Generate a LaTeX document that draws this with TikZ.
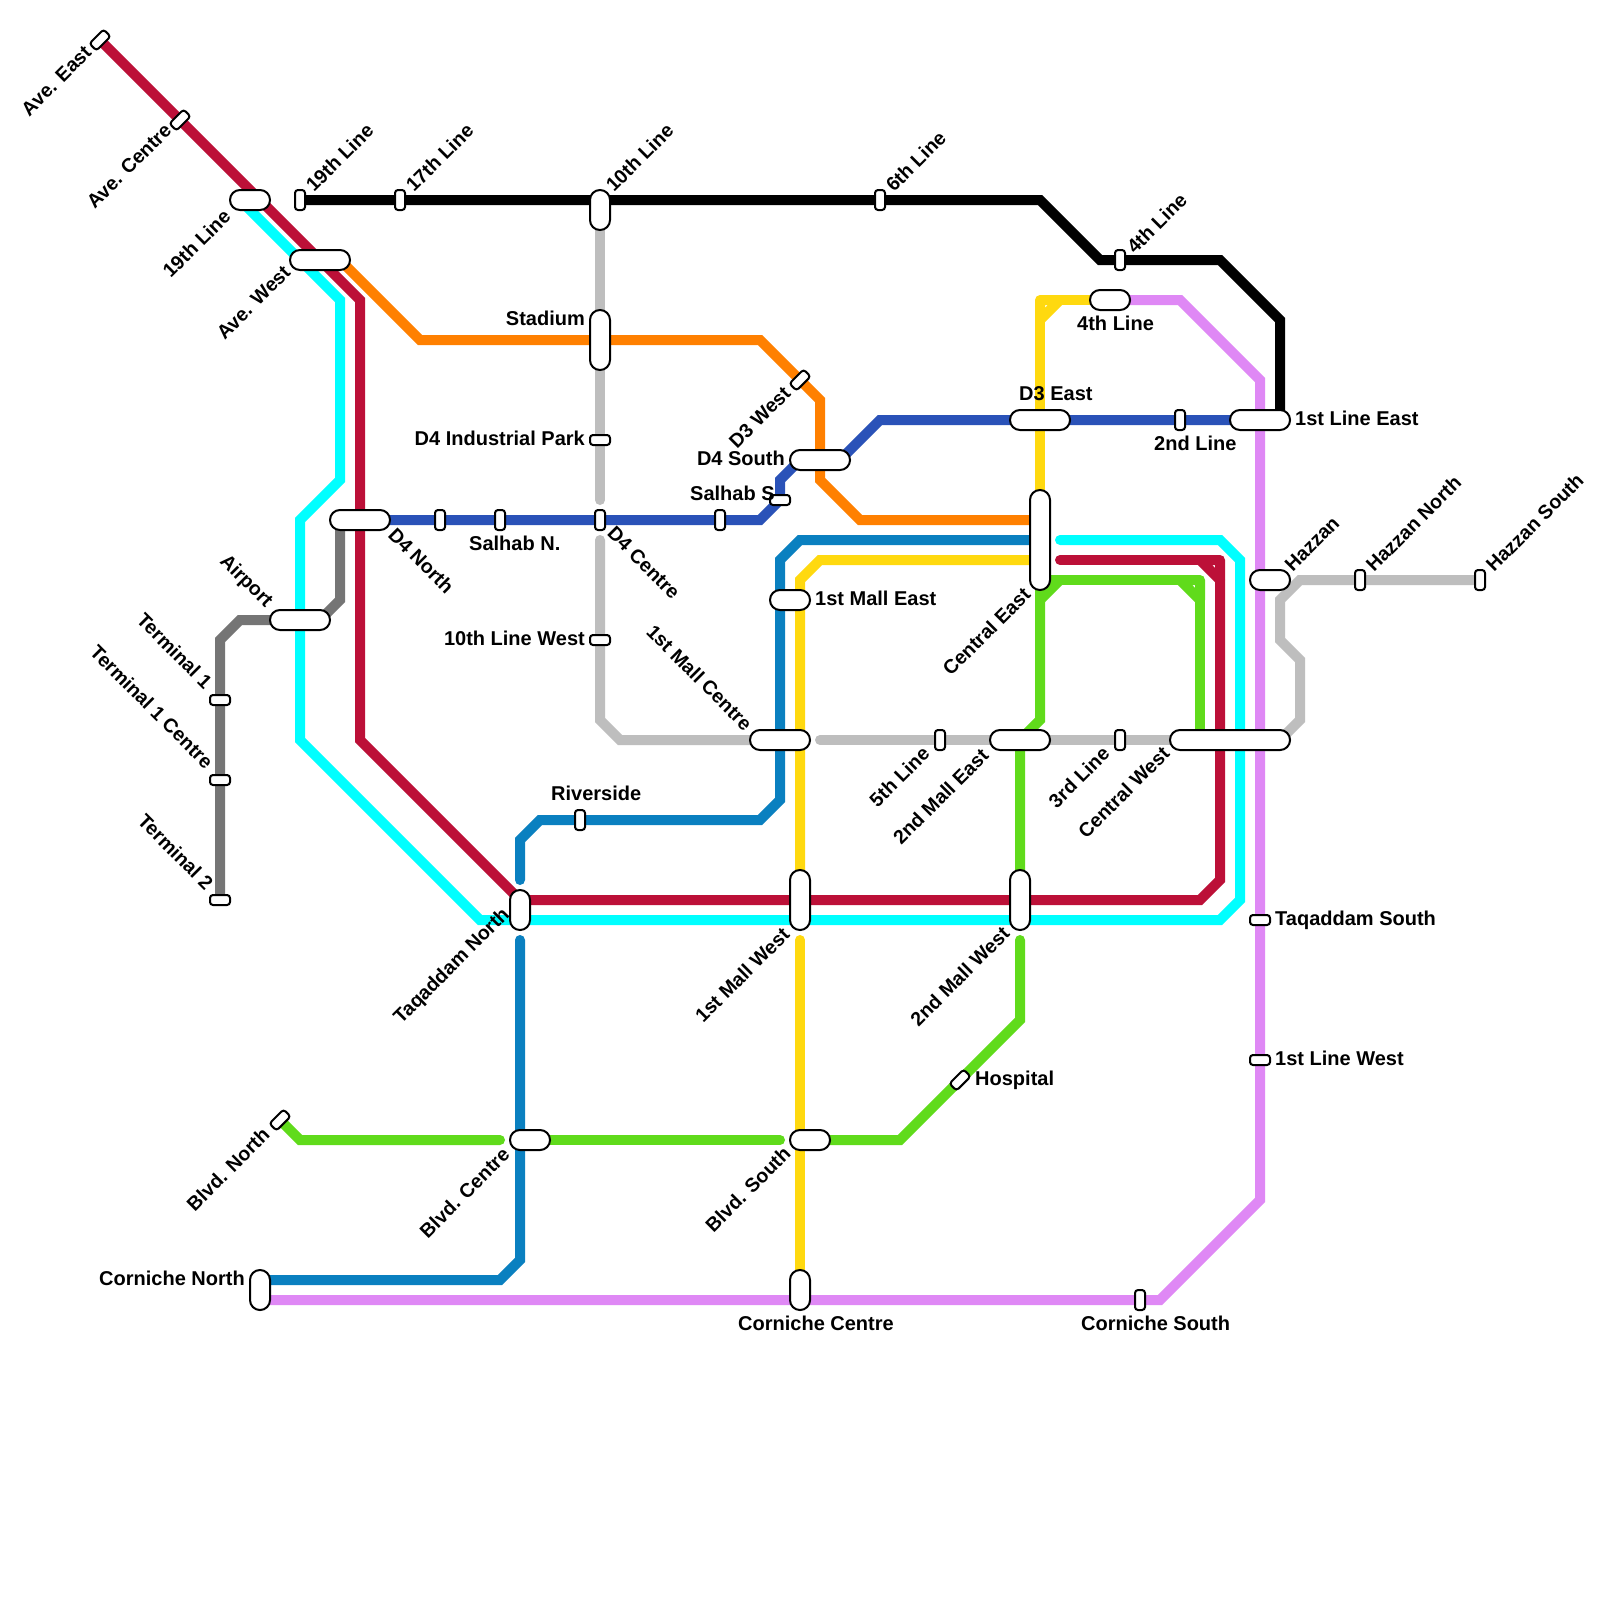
\documentclass[tikz,border=0pt]{standalone}
\usepackage{fontspec}
\setmainfont{Liberation Sans}
\usetikzlibrary{backgrounds}
\definecolor{cCrim}{HTML}{BC1038}
\definecolor{cCyan}{HTML}{00FFFF}
\definecolor{cOrange}{HTML}{FF8000}
\definecolor{cBlue}{HTML}{2A52B8}
\definecolor{cGrey}{HTML}{BEBEBE}
\definecolor{cDark}{HTML}{757575}
\definecolor{cRiver}{HTML}{0A80C0}
\definecolor{cYellow}{HTML}{FFD90F}
\definecolor{cGreen}{HTML}{60DB1B}
\definecolor{cPurple}{HTML}{DF88F5}
\tikzset{
  stn/.style={rectangle,draw=black,fill=white,line width=2pt,inner sep=0pt,outer sep=0pt},
  pill/.style n args={2}{stn,rounded corners=9.9pt,minimum width=#1pt,minimum height=#2pt},
  tickv/.style={stn,rounded corners=3pt,minimum width=10pt,minimum height=20pt},
  tickh/.style={stn,rounded corners=3pt,minimum width=20pt,minimum height=10pt},
  tickd/.style={tickh,rotate=45},
  lb/.style={font=\bfseries\fontsize{20}{24}\selectfont,inner sep=0pt,text=black},
  lup/.style={lb,font=\bfseries\fontsize{19.6}{24}\selectfont,rotate=45},
  ldn/.style={lb,font=\bfseries\fontsize{19.6}{24}\selectfont,rotate=-45},
  ln/.style={line width=10pt,line cap=round,line join=miter,miter limit=10},
  cr/.style={line width=10pt,line cap=round,line join=round},
}
\begin{document}
\begin{tikzpicture}[x=1pt,y=-1pt]
\useasboundingbox (0,0) rectangle (1600,1600);
% stations
\node[tickd] (sAveE) at (100,40) {};
\node[tickd] (sAveC) at (180,120) {};
\node[pill={40}{20}] (s19) at (250,200) {};
\node[tickv] (s19L) at (300,200) {};
\node[tickv] (s17L) at (400,200) {};
\node[pill={20}{40}] (s10L) at (600,210) {};
\node[tickv] (s6L) at (880,200) {};
\node[tickv] (s4L) at (1120,260) {};
\node[pill={60}{20}] (sAveW) at (320,260) {};
\node[pill={40}{20}] (s4Lb) at (1110,300) {};
\node[pill={20}{60}] (sStad) at (600,340) {};
\node[tickd] (sD3W) at (800,380) {};
\node[pill={60}{20}] (sD3E) at (1040,420) {};
\node[tickv] (s2L) at (1180,420) {};
\node[pill={60}{20}] (s1LE) at (1260,420) {};
\node[tickh] (sInd) at (600,440) {};
\node[pill={60}{20}] (sD4S) at (820,460) {};
\node[tickh] (sSalS) at (780,500) {};
\node[pill={60}{20}] (sD4N) at (360,520) {};
\node[tickv] (sT1) at (440,520) {};
\node[tickv] (sSalN) at (500,520) {};
\node[tickv] (sD4C) at (600,520) {};
\node[tickv] (sT2) at (720,520) {};
\node[pill={20}{100}] (sCE) at (1040,540) {};
\node[pill={40}{20}] (sHaz) at (1270,580) {};
\node[tickv] (sHazN) at (1360,580) {};
\node[tickv] (sHazS) at (1480,580) {};
\node[pill={40}{20}] (s1ME) at (790,600) {};
\node[pill={60}{20}] (sAir) at (300,620) {};
\node[tickh] (s10W) at (600,640) {};
\node[tickh] (sTer1) at (220,700) {};
\node[pill={60}{20}] (s1MC) at (780,740) {};
\node[tickv] (s5L) at (940,740) {};
\node[pill={60}{20}] (s2ME) at (1020,740) {};
\node[tickv] (s3L) at (1120,740) {};
\node[pill={120}{20}] (sCW) at (1230,740) {};
\node[tickh] (sTer1C) at (220,780) {};
\node[tickv] (sRiv) at (580,820) {};
\node[tickh] (sTer2) at (220,900) {};
\node[pill={20}{60}] (s1MW) at (800,900) {};
\node[pill={20}{60}] (s2MW) at (1020,900) {};
\node[pill={20}{40}] (sTaqN) at (520,910) {};
\node[tickh] (sTaqS) at (1260,920) {};
\node[tickh] (s1LW) at (1260,1060) {};
\node[tickd] (sHos) at (960,1080) {};
\node[tickd] (sBlvN) at (280,1120) {};
\node[pill={40}{20}] (sBlvC) at (530,1140) {};
\node[pill={40}{20}] (sBlvS) at (810,1140) {};
\node[pill={20}{40}] (sCorN) at (260,1290) {};
\node[pill={20}{40}] (sCorC) at (800,1290) {};
\node[tickv] (sCorS) at (1140,1300) {};
% free ends
\coordinate (eCyanR) at (1060,540);
\coordinate (eCrimR) at (1060,560);
\coordinate (eGreyA) at (600,500);
\coordinate (eGreyB) at (600,540);
\coordinate (eGreyC) at (820,740);
\coordinate (eRivA) at (520,880);
\coordinate (eRivB) at (520,940);
\coordinate (eYelA) at (800,940);
\coordinate (eYelB) at (1040,560);
\coordinate (eGrnA) at (1020,880);
\coordinate (eGrnB) at (1020,940);
\coordinate (eGrnC) at (780,1140);
\coordinate (eGrnD) at (550,1140);
\coordinate (eGrnE) at (500,1140);
\coordinate (eOrA) at (340,260);
\coordinate (eOrB) at (1040,520);
\coordinate (eCyA) at (240,200);
\coordinate (eDkA) at (340,520);
\coordinate (eRivC) at (260,1280);
\coordinate (ePurA) at (260,1300);
\begin{scope}[on background layer]
\fill[white] (0,0) rectangle (1600,1600);
% black
\draw[ln,black] (s19L.center) -- (1040,200) -- (1100,260) -- (1220,260) -- (1280,320) -- (1280,420);
% grey
\draw[ln,cGrey] (s10L.center) -- (eGreyA);
\draw[ln,cGrey] (eGreyB) -- (600,720) -- (620,740) -- (s1MC.center);
\draw[ln,cGrey] (eGreyC) -- (sCW.center);
\draw[ln,cGrey] (sHazS.center) -- (1300,580) -- (1280,600) -- (1280,640) -- (1300,660) -- (1300,720) -- (1280,740);
% dark grey
\draw[ln,cDark] (eDkA) -- (340,600) -- (320,620) -- (240,620) -- (220,640) -- (sTer2.center);
% orange
\draw[ln,cOrange] (eOrA) -- (420,340) -- (760,340) -- (820,400) -- (820,480) -- (860,520) -- (eOrB);
% blue
\draw[ln,cBlue] (sD4N.center) -- (760,520) -- (780,500) -- (780,480) -- (800,460) -- (840,460) -- (880,420) -- (s1LE.center);
% cyan
\draw[ln,cCyan] (eCyA) -- (340,300) -- (340,480) -- (300,520) -- (300,740) -- (480,920) -- (1220,920) -- (1240,900) -- (1240,560) -- (1220,540) -- (eCyanR);
% crimson
\draw[ln,cCrim] (sAveE.center) -- (360,300) -- (360,740) -- (520,900) -- (1200,900) -- (1220,880) -- (1220,580);
\draw[ln,cCrim] (eCrimR) -- (1200,560);
\draw[cr,cCrim] (1200,560) -- (1220,560) -- (1220,580) -- cycle;
% river blue
\draw[ln,cRiver] (sCE.center) -- (800,540) -- (780,560) -- (780,800) -- (760,820) -- (540,820) -- (520,840) -- (eRivA);
\draw[ln,cRiver] (eRivB) -- (520,1260) -- (500,1280) -- (eRivC);
% yellow
\draw[ln,cYellow] (sCE.center) -- (1040,320);
\draw[ln,cYellow] (1060,300) -- (s4Lb.center);
\draw[cr,cYellow] (1060,300) -- (1040,300) -- (1040,320) -- cycle;
\draw[ln,cYellow] (eYelB) -- (820,560) -- (800,580) -- (s1MW.center);
\draw[ln,cYellow] (eYelA) -- (sCorC.center);
% green
\draw[ln,cGreen] (1180,580) -- (1060,580);
\draw[cr,cGreen] (1180,580) -- (1200,580) -- (1200,600) -- cycle;
\draw[ln,cGreen] (1200,600) -- (1200,740);
\draw[cr,cGreen] (1060,580) -- (1040,580) -- (1040,600) -- cycle;
\draw[ln,cGreen] (1040,600) -- (1040,720) -- (1020,740) -- (eGrnA);
\draw[ln,cGreen] (eGrnB) -- (1020,1020) -- (900,1140) -- (sBlvS.center);
\draw[ln,cGreen] (eGrnC) -- (eGrnD);
\draw[ln,cGreen] (eGrnE) -- (300,1140) -- (sBlvN.center);
% purple
\draw[ln,cPurple] (ePurA) -- (1160,1300) -- (1260,1200) -- (1260,380) -- (1180,300) -- (s4Lb.center);
\end{scope}
% labels
\node[lup,anchor=east] (lAveE) at (88,49) {Ave. East};
\node[lup,anchor=east] (lAveC) at (168,127) {Ave. Centre};
\node[lup,anchor=east] (l19b) at (227,213) {19th Line};
\node[lup,anchor=east] (lAveW) at (287,269) {Ave. West};
\node[ldn,anchor=east] (lAir) at (269,605) {Airport};
\node[ldn,anchor=east] (lTer1) at (209,685) {Terminal 1};
\node[ldn,anchor=east] (lTer1C) at (210,765) {Terminal 1 Centre};
\node[ldn,anchor=east] (lTer2) at (210,886) {Terminal 2};
\node[lup,anchor=west] (l19) at (309,188) {19th Line};
\node[lup,anchor=west] (l17) at (409,188) {17th Line};
\node[lup,anchor=west] (l10) at (609,188) {10th Line};
\node[lup,anchor=west] (l6) at (889,188) {6th Line};
\node[lup,anchor=west] (l4) at (1130,250) {4th Line};
\node[lup,anchor=west] (lHaz) at (1288,568) {Hazzan};
\node[lup,anchor=west] (lHazN) at (1369,568) {Hazzan North};
\node[lup,anchor=west] (lHazS) at (1489,568) {Hazzan South};
\node[lb,anchor=base east] (lStad) at (585,325) {Stadium};
\node[lb,anchor=base east] (lInd) at (585,445) {D4 Industrial Park};
\node[lb,anchor=base east] (l10W) at (585,645) {10th Line West};
\node[lb,anchor=base east] (lD4S) at (785,465) {D4 South};
\node[lb,anchor=base west] (lSalS) at (690,500) {Salhab S};
\node[lb,anchor=base west] (lSalN) at (469,550) {Salhab N.};
\node[ldn,anchor=west] (lD4N) at (392,531) {D4 North};
\node[ldn,anchor=west] (lD4C) at (611,530) {D4 Centre};
\node[ldn,anchor=east] (l1MC) at (749,727) {1st Mall Centre};
\node[lup,anchor=east] (lD3W) at (787,390) {D3 West};
\node[lb,anchor=base west] (lD3E) at (1019,400) {D3 East};
\node[lb,anchor=base west] (l4b) at (1077,330) {4th Line};
\node[lb,anchor=base west] (l2L) at (1154,450) {2nd Line};
\node[lb,anchor=base west] (l1LE) at (1295,425) {1st Line East};
\node[lb,anchor=base west] (l1ME) at (815,605) {1st Mall East};
\node[lup,anchor=east] (lCE) at (1027,591) {Central East};
\node[lup,anchor=east] (l2ME) at (985,752) {2nd Mall East};
\node[lup,anchor=east] (l5L) at (926,750) {5th Line};
\node[lup,anchor=east] (l3L) at (1106,750) {3rd Line};
\node[lup,anchor=east] (lCW) at (1166,750) {Central West};
\node[lb,anchor=base west] (lRiv) at (551,800) {Riverside};
\node[lup,anchor=east] (lTaqN) at (507,912) {Taqaddam North};
\node[lup,anchor=east] (l1MW) at (786,931) {1st Mall West};
\node[lup,anchor=east] (l2MW) at (1006,930) {2nd Mall West};
\node[lb,anchor=base west] (lTaqS) at (1275,925) {Taqaddam South};
\node[lb,anchor=base west] (l1LW) at (1275,1065) {1st Line West};
\node[lb,anchor=base west] (lHos) at (975,1085) {Hospital};
\node[lup,anchor=east] (lBlvN) at (266,1131) {Blvd. North};
\node[lup,anchor=east] (lBlvC) at (506,1151) {Blvd. Centre};
\node[lup,anchor=east] (lBlvS) at (787,1150) {Blvd. South};
\node[lb,anchor=base east] (lCorN) at (245,1285) {Corniche North};
\node[lb,anchor=base west] (lCorC) at (738,1330) {Corniche Centre};
\node[lb,anchor=base west] (lCorS) at (1081,1330) {Corniche South};
\end{tikzpicture}
\end{document}
